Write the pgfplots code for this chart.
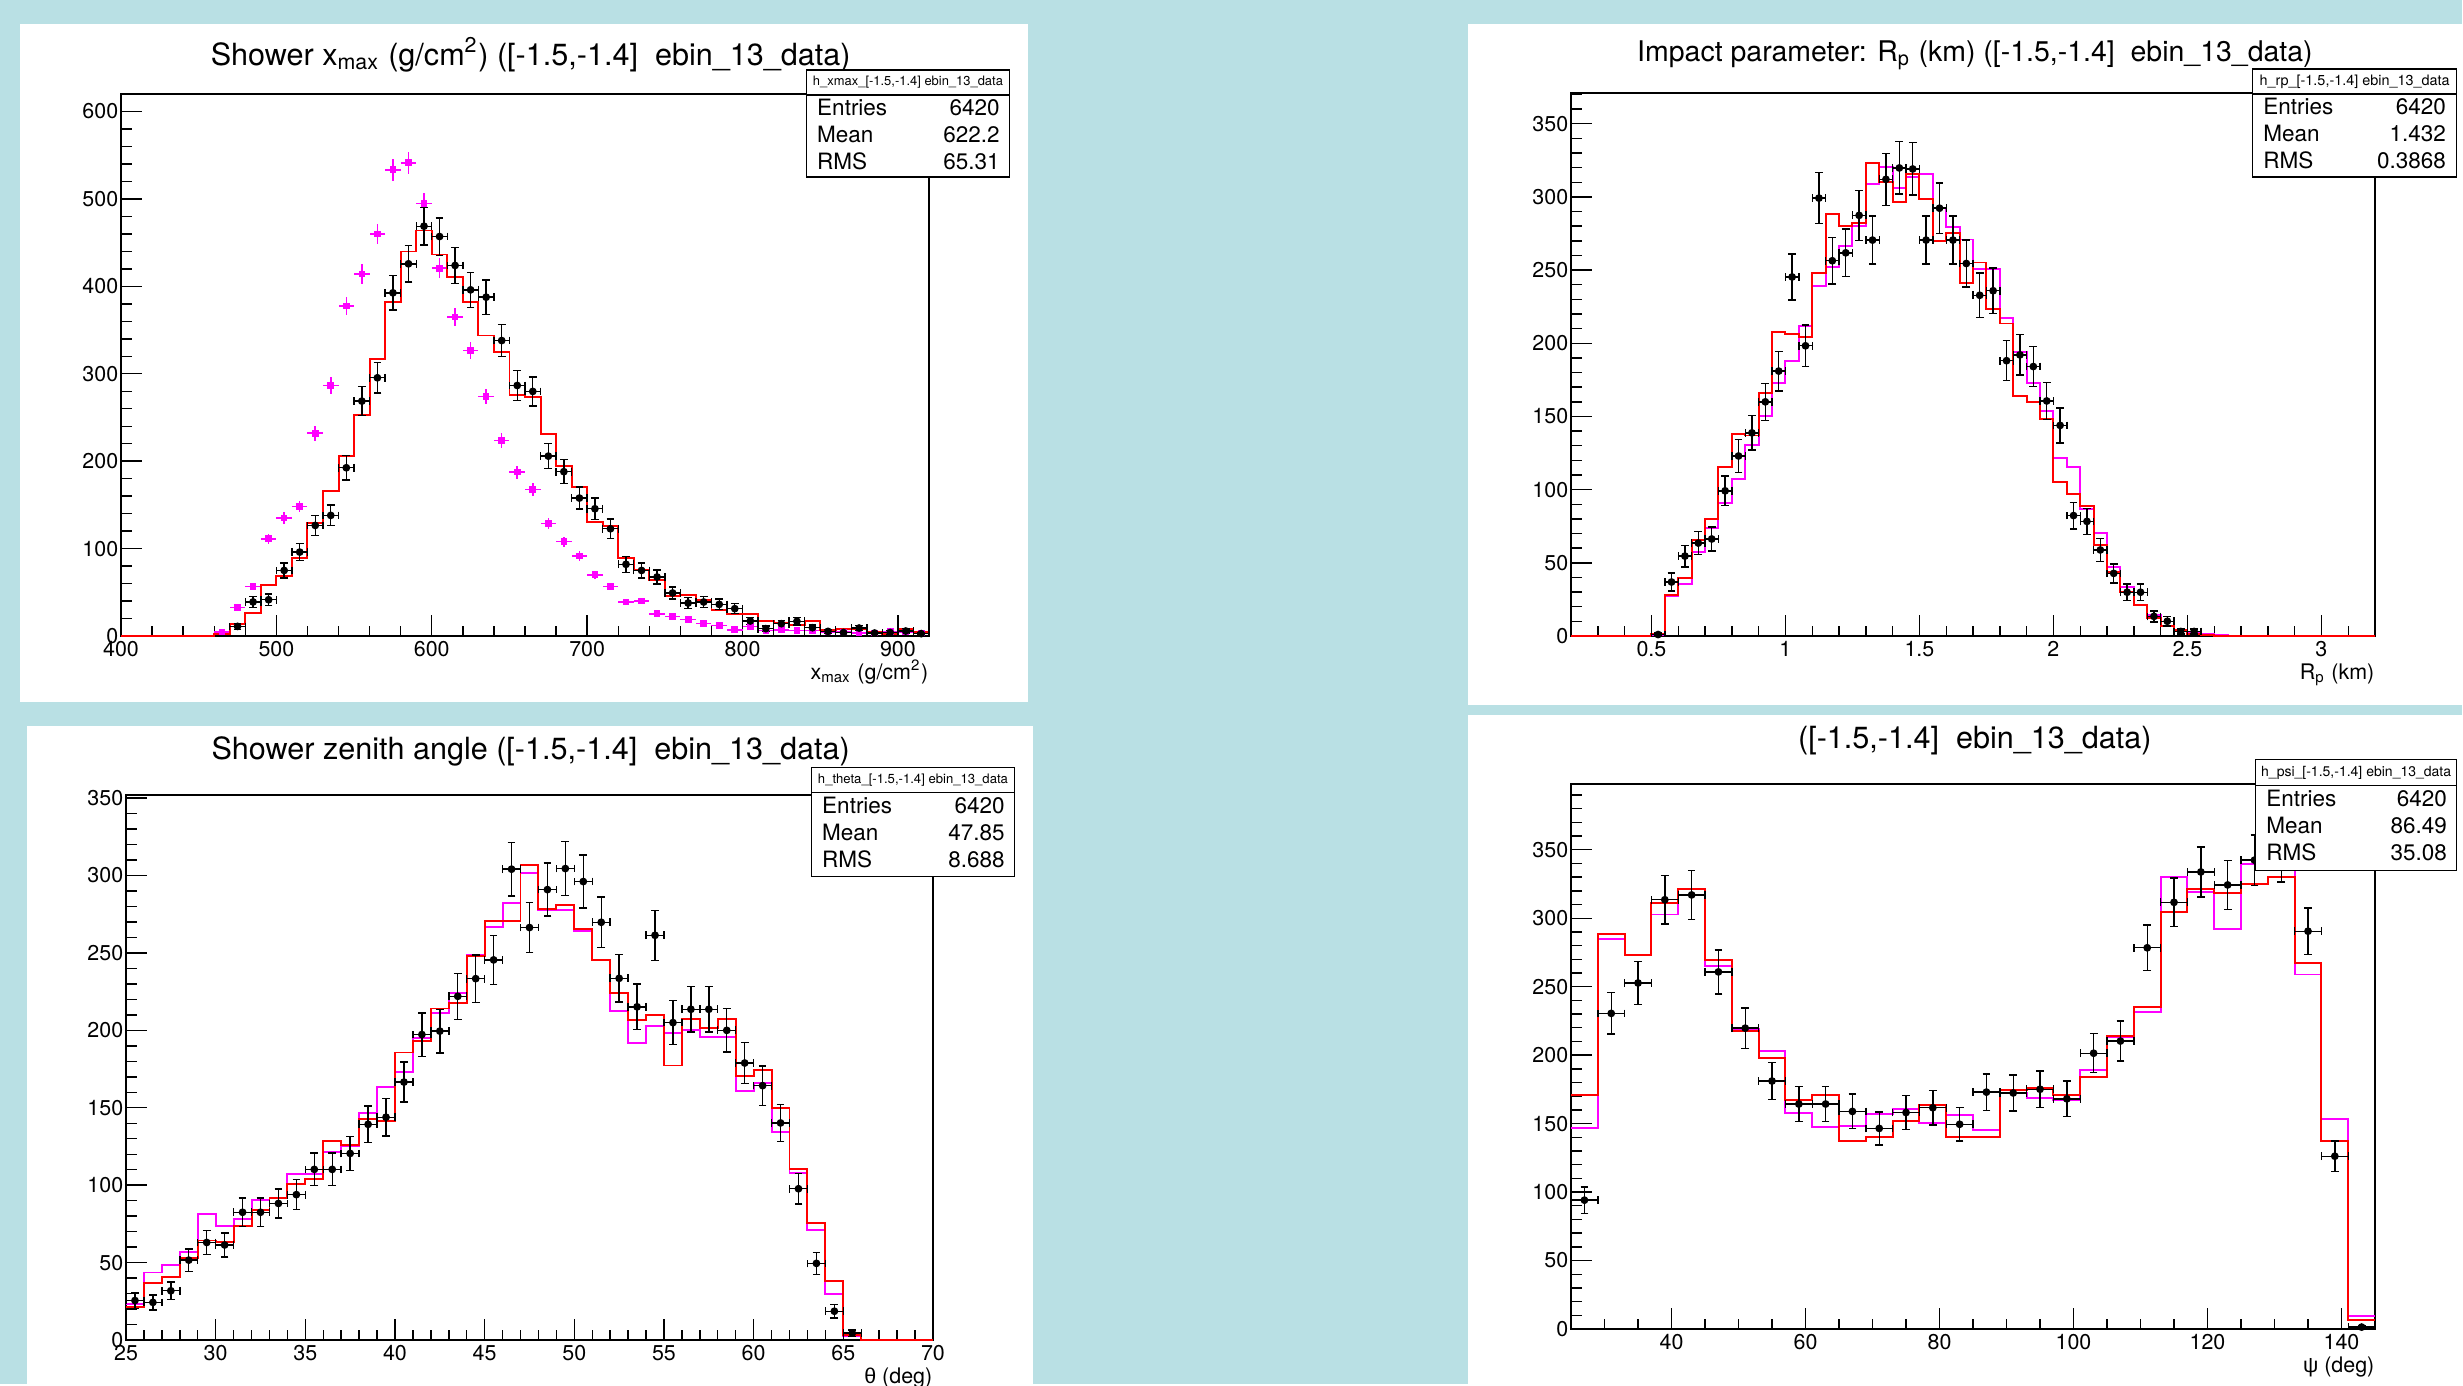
\documentclass[border=0pt]{standalone}
\usepackage{pgfplots}
\pgfplotsset{compat=1.18}
\usepackage{fontspec}
\setmainfont{TeX Gyre Heros}
\newfontfamily\greekfont{Liberation Sans}
\definecolor{bgblue}{RGB}{185,224,228}
\definecolor{rmag}{RGB}{255,0,255}
\definecolor{rred}{RGB}{255,0,0}
\newcommand{\tickfont}{\fontsize{6.1}{7}\selectfont}
\newcommand{\statfont}{\fontsize{6.4}{7}\selectfont}
\pgfplotsset{
  rootaxis/.style={
    scale only axis, anchor=south west,
    axis line style={line width=0.42pt, black},
    tick align=inside, tick pos=left,
    major tick length=0.21cm, minor tick length=0.105cm,
    every tick/.style={black, line width=0.4pt},
    tick label style={font=\tickfont},
    xticklabel style={inner sep=1.4pt},
    yticklabel style={inner sep=0pt, xshift=-0.6pt},
    /pgf/number format/assume math mode=true,
    xlabel style={at={(axis description cs:1,0)}, anchor=base east, yshift=-0.43cm, inner sep=0pt, font=\tickfont},
    clip=true,
  },
  histo/.style={const plot, line width=0.55pt, #1},
  datapts/.style={black, only marks, mark=*, mark size=0.9pt,
    error bars/.cd, x dir=both, x explicit, y dir=both, y explicit,
    error bar style={line width=0.4pt, black},
    error mark options={rotate=90, mark size=1.1pt, line width=0.4pt, black}},
  magpts/.style={rmag, only marks, mark=square*, mark size=0.75pt,
    error bars/.cd, x dir=both, x explicit, y dir=both, y explicit,
    error bar style={line width=0.45pt, rmag}, error mark=none},
}
\begin{document}
\begin{tikzpicture}
\path[use as bounding box] (0,0) rectangle (24.63cm,-13.85cm);
\begin{scope}[x=0.01cm, y=-0.01cm]
\fill[bgblue] (0,0) rectangle (2463,1385);
\fill[white] (20,24) rectangle (1029,702);
\fill[white] (1469,24) rectangle (2463,705);
\fill[white] (27,726) rectangle (1034,1385);
\fill[white] (1469,715) rectangle (2463,1385);
\end{scope}

% ---------------- Panel 1: xmax ----------------
\begin{axis}[rootaxis, at={(1.21cm,-6.36cm)}, width=8.08cm, height=5.42cm,
  xmin=400, xmax=920, ymin=0, ymax=620,
  xtick={400,500,...,900}, ytick={0,100,...,600},
  minor xtick={400,420,...,920}, minor ytick={0,20,...,620},
  xlabel={x\textsubscript{max} (g/cm\textsuperscript{2})}]
\addplot[magpts] table[x=x, y=y, x error=ex, y error=ey] {
x y ex ey
465 4.6 5 1.2
475 32.4 5 3.1
485 56.8 5 4.1
495 111.3 5 5.8
505 135 5 6.4
515 148.3 5 6.7
525 232 5 8.4
535 286.6 5 9.3
545 377.4 5 10.7
555 414.3 5 11.2
565 460 5 11.8
575 533.3 5 12.7
585 541.3 5 12.8
595 495 5 12.2
605 420.8 5 11.3
615 364.8 5 10.5
625 326.7 5 9.9
635 274 5 9.1
645 223.7 5 8.2
655 187.5 5 7.5
665 167.7 5 7.1
675 128.5 5 6.2
685 108 5 5.7
695 91.5 5 5.3
705 70 5 4.6
715 56.8 5 4.1
725 38.9 5 3.4
735 40 5 3.5
745 25.5 5 2.8
755 22.5 5 2.6
765 18.7 5 2.4
775 14.1 5 2.1
785 12.2 5 1.9
795 7.2 5 1.5
805 11 5 1.8
815 6.5 5 1.4
825 7.2 5 1.5
835 6.5 5 1.4
845 6.5 5 1.4
855 4.6 5 1.2
865 4.6 5 1.2
875 3.4 5 1.0
885 3.4 5 1.0
895 5.3 5 1.3
905 4.6 5 1.2
915 3.4 5 1.0
};
\addplot[histo=rred] table {
x y
400 0
460 2
470 13.3
480 26.7
490 58.7
500 68.2
510 89.2
520 129.2
530 165.4
540 205.5
550 253
560 317.1
570 382
580 439.9
590 463.9
600 436.4
610 410.5
620 382
630 343.8
640 324.8
650 276
660 273.3
670 231.4
680 194
690 170.4
700 130.4
710 125.4
720 89.6
730 75
740 63.7
750 45.4
760 47.3
770 41.5
780 29.4
790 25.5
800 25.5
810 16.8
820 14.9
830 12.2
840 16.8
850 6.5
860 7.6
870 7.6
880 4.6
890 2.7
900 8.4
910 4.6
920 4.6
};
\addplot[datapts] table[x=x, y=y, x error=ex, y error=ey] {
x y ex ey
475 11 5 3.3
485 39 5 6.2
495 41.5 5 6.4
505 75 5 8.7
515 96 5 9.8
525 126.5 5 11.2
535 138 5 11.7
545 192.5 5 13.9
555 268.7 5 16.4
565 295.4 5 17.2
575 392.6 5 19.8
585 425.8 5 20.6
595 468.8 5 21.7
605 457 5 21.4
615 423.9 5 20.6
625 396 5 19.9
635 387.6 5 19.7
645 338 5 18.4
655 286.6 5 16.9
665 279.8 5 16.7
675 205.8 5 14.3
685 188 5 13.7
695 157.8 5 12.6
705 145.6 5 12.1
715 122.7 5 11.1
725 82 5 9.1
735 75 5 8.7
745 67.5 5 8.2
755 49.2 5 7.0
765 37.7 5 6.1
775 38.9 5 6.2
785 36.2 5 6.0
795 31.3 5 5.6
805 17.2 5 4.1
815 8.4 5 2.9
825 14.1 5 3.8
835 16.8 5 4.1
845 9.5 5 3.1
855 5.3 5 2.3
865 4 5 2.0
875 9.1 5 3.0
885 3.4 5 1.8
895 4 5 2.0
905 5.7 5 2.4
915 2.7 5 1.6
};
\end{axis}

% ---------------- Panel 2: Rp ----------------
\begin{axis}[rootaxis, at={(15.71cm,-6.36cm)}, width=8.04cm, height=5.43cm,
  xmin=0.2, xmax=3.2, ymin=0, ymax=371,
  xtick={0.5,1,1.5,2,2.5,3}, ytick={0,50,...,350},
  minor xtick={0.2,0.3,...,3.2}, minor ytick={0,10,...,370},
  xlabel={R\textsubscript{p} (km)}]
\addplot[histo=rmag] table {
x y
0.2 0
0.5 0.7
0.55 27
0.6 35.3
0.65 57.1
0.7 73.6
0.75 91
0.8 107
0.85 130.5
0.9 150.5
0.95 172.9
1.0 187.7
1.05 211.7
1.1 239.4
1.15 252.1
1.2 266.2
1.25 280.3
1.3 308.8
1.35 320.3
1.4 306.4
1.45 313.5
1.5 315.6
1.55 292.3
1.6 279.2
1.65 270.9
1.7 250.9
1.75 250.9
1.8 217.5
1.85 194
1.9 172.9
1.95 154
2.0 121.6
2.05 115.2
2.1 87
2.15 70.1
2.2 47
2.25 33.4
2.3 21.2
2.35 14.1
2.4 7.1
2.45 3.5
2.5 1.9
2.55 1.2
2.6 0.7
2.65 0
3.2 0
};
\addplot[histo=rred] table {
x y
0.2 0
0.5 1.2
0.55 28.2
0.6 39.5
0.65 65.4
0.7 80
0.75 115.2
0.8 138.3
0.85 137
0.9 165.8
0.95 207.4
1.0 206.5
1.05 204.6
1.1 248.1
1.15 288.1
1.2 279.9
1.25 282.2
1.3 323.4
1.35 310
1.4 296.8
1.45 315.8
1.5 298.7
1.55 270
1.6 275.2
1.65 241
1.7 255.2
1.75 223.4
1.8 213.5
1.85 164.2
1.9 159.9
1.95 148.2
2.0 105.1
2.05 96.9
2.1 88.7
2.15 61.9
2.2 43.5
2.25 29.9
2.3 21.2
2.35 12.5
2.4 7.1
2.45 4.2
2.5 1.2
2.55 0.7
2.6 0
3.2 0
};
\addplot[datapts] table[x=x, y=y, x error=ex, y error=ey] {
x y ex ey
0.525 1 0.025 1.0
0.575 36.9 0.025 6.1
0.625 54.6 0.025 7.4
0.675 63.5 0.025 8.0
0.725 66.3 0.025 8.1
0.775 99.2 0.025 10.0
0.825 123 0.025 11.1
0.875 138.8 0.025 11.8
0.925 160 0.025 12.6
0.975 181 0.025 13.5
1.025 245.3 0.025 15.7
1.075 198.3 0.025 14.1
1.125 299.2 0.025 17.3
1.175 256.4 0.025 16.0
1.225 261.8 0.025 16.2
1.275 287.4 0.025 17.0
1.325 270.5 0.025 16.4
1.375 312 0.025 17.7
1.425 319.8 0.025 17.9
1.475 319.1 0.025 17.9
1.525 270.5 0.025 16.4
1.575 292.3 0.025 17.1
1.625 270.5 0.025 16.4
1.675 254.5 0.025 16.0
1.725 232.8 0.025 15.3
1.775 235.9 0.025 15.4
1.825 188.1 0.025 13.7
1.875 192.1 0.025 13.9
1.925 184.1 0.025 13.6
1.975 160.6 0.025 12.7
2.025 143.9 0.025 12.0
2.075 82.3 0.025 9.1
2.125 78.3 0.025 8.8
2.175 58.8 0.025 7.7
2.225 42.8 0.025 6.5
2.275 29.9 0.025 5.5
2.325 29.9 0.025 5.5
2.375 13.4 0.025 3.7
2.425 10.1 0.025 3.2
2.475 3.1 0.025 1.8
2.525 3.1 0.025 1.8
};
\end{axis}

% ---------------- Panel 3: theta ----------------
\begin{axis}[rootaxis, at={(1.26cm,-13.40cm)}, width=8.07cm, height=5.45cm,
  xmin=25, xmax=70, ymin=0, ymax=352,
  xtick={25,30,...,70}, ytick={0,50,...,350},
  minor xtick={25,26,...,70}, minor ytick={0,10,...,350},
  xlabel={{\greekfont θ} (deg)}]
\addplot[histo=rmag] table {
x y
25 23.4
26 43.6
27 48.4
28 56.8
29 81.4
30 73.9
31 78.4
32 90.5
33 91.6
34 107.5
35 107.5
36 121.6
37 125
38 146.6
39 163.6
40 173.4
41 194.8
42 211.4
43 224.3
44 248.9
45 266.6
46 282.5
47 301.6
48 277.7
49 277.7
50 264.3
51 245.5
52 212.5
53 191.6
54 202.7
55 198.2
56 200
57 195.9
58 195.9
59 160.9
60 165.9
61 134.1
62 108
63 71.1
64 29.5
65 2.3
66 0
70 0
};
\addplot[histo=rred] table {
x y
25 21.6
26 37
27 40.5
28 53
29 64.3
30 63.6
31 73.4
32 84.1
33 91.6
34 100.7
35 104.1
36 128.4
37 126.1
38 142.7
39 141.6
40 185.7
41 193.2
42 214.1
43 217.5
44 248.2
45 270.5
46 270.5
47 306.8
48 278.4
49 281.1
50 265.5
51 245.5
52 224.3
53 206.4
54 210.2
55 177.3
56 207.5
57 201.6
58 207.5
59 170.5
60 174.5
61 150
62 110.7
63 75.7
64 38.2
65 3.4
66 0
70 0
};
\addplot[datapts] table[x=x, y=y, x error=ex, y error=ey] {
x y ex ey
25.5 25.5 0.5 5.0
26.5 24.3 0.5 4.9
27.5 31.8 0.5 5.6
28.5 51.6 0.5 7.2
29.5 63 0.5 7.9
30.5 61.4 0.5 7.8
31.5 82.5 0.5 9.1
32.5 82.5 0.5 9.1
33.5 88.2 0.5 9.4
34.5 93.9 0.5 9.7
35.5 110.2 0.5 10.5
36.5 110.2 0.5 10.5
37.5 120.5 0.5 11.0
38.5 139.3 0.5 11.8
39.5 143.9 0.5 12.0
40.5 166.6 0.5 12.9
41.5 197.3 0.5 14.0
42.5 199.5 0.5 14.1
43.5 222 0.5 14.9
44.5 233.4 0.5 15.3
45.5 245.5 0.5 15.7
46.5 304.1 0.5 17.4
47.5 266.4 0.5 16.3
48.5 290.9 0.5 17.1
49.5 304.5 0.5 17.5
50.5 296.1 0.5 17.2
51.5 269.8 0.5 16.4
52.5 233.6 0.5 15.3
53.5 215.2 0.5 14.7
54.5 261.4 0.5 16.2
55.5 205 0.5 14.3
56.5 213.6 0.5 14.6
57.5 213.6 0.5 14.6
58.5 200 0.5 14.1
59.5 178.9 0.5 13.4
60.5 164.3 0.5 12.8
61.5 140.2 0.5 11.8
62.5 97.7 0.5 9.9
63.5 49.5 0.5 7.0
64.5 18.6 0.5 4.3
65.5 4.5 0.5 2.1
};
\end{axis}

% ---------------- Panel 4: psi ----------------
\begin{axis}[rootaxis, at={(15.71cm,-13.29cm)}, width=8.04cm, height=5.45cm,
  xmin=25, xmax=145, ymin=0, ymax=398,
  xtick={40,60,...,140}, ytick={0,50,...,350},
  minor xtick={25,30,...,145}, minor ytick={0,10,...,390},
  xlabel={{\greekfont ψ} (deg)}]
\addplot[histo=rmag] table {
x y
25 146.8
29 284.6
33 273
37 302.7
41 317
45 265.4
49 218.9
53 203.2
57 157.6
61 147.8
65 148.6
69 157.3
73 160.8
77 150.5
81 156.5
85 145.1
89 172.2
93 168.4
97 167
101 189.2
105 213.5
109 231.6
113 330.3
117 318.9
121 291.9
125 339.7
129 351.4
133 258.9
137 153.2
141 9.5
145 9.5
};
\addplot[histo=rred] table {
x y
25 171.1
29 288.6
33 273
37 311.4
41 321.6
45 269.7
49 217.6
53 197.8
57 167
61 171.1
65 137.3
69 140
73 152.2
77 163.5
81 140
85 140.5
89 174.3
93 175.7
97 171.1
101 183.8
105 214.1
109 235.1
113 304.6
117 321.6
121 318.4
125 324.9
129 330.3
133 267.6
137 137.3
141 6.8
145 6.8
};
\addplot[datapts] table[x=x, y=y, x error=ex, y error=ey] {
x y ex ey
27 94.1 2 9.7
31 230.5 2 15.2
35 252.7 2 15.9
39 313.5 2 17.7
43 317 2 17.8
47 260.8 2 16.1
51 219.7 2 14.8
55 181.1 2 13.5
59 164.3 2 12.8
63 164.3 2 12.8
67 158.9 2 12.6
71 146.5 2 12.1
75 158.1 2 12.6
79 161.6 2 12.7
83 149.5 2 12.2
87 173 2 13.2
91 172.4 2 13.1
95 175.1 2 13.2
99 168.1 2 13.0
103 201.4 2 14.2
107 210.3 2 14.5
111 278.4 2 16.7
115 311.6 2 17.7
119 333.8 2 18.3
123 324.3 2 18.0
127 342.4 2 18.5
131 345 2 18.6
135 290.5 2 17.0
139 126.2 2 11.2
143 1.4 2 1.2
};
\end{axis}

% ---------------- titles and stat boxes ----------------
\begin{scope}[x=0.01cm, y=-0.01cm]
\node[anchor=base, inner sep=0pt, font=\fontsize{8.7}{10}\selectfont] at (531,66) {Shower x\textsubscript{max} (g/cm\textsuperscript{2}) ([-1.5,-1.4]\ \ ebin\_13\_data)};
\node[anchor=base, inner sep=0pt, font=\fontsize{8.1}{10}\selectfont] at (1976,62) {Impact parameter: R\textsubscript{p} (km) ([-1.5,-1.4]\ \ ebin\_13\_data)};
\node[anchor=base, inner sep=0pt, font=\fontsize{8.7}{10}\selectfont] at (531,760) {Shower zenith angle ([-1.5,-1.4]\ \ ebin\_13\_data)};
\node[anchor=base, inner sep=0pt, font=\fontsize{8.7}{10}\selectfont] at (1976,749) {([-1.5,-1.4]\ \ ebin\_13\_data)};

% box 1
\draw[fill=white, line width=0.4pt] (807,70) rectangle (1010,177);
\draw[line width=0.4pt] (807,95) -- (1010,95);
\node[inner sep=0pt] at (908.5,82.5) {\resizebox{1.9cm}{!}{h\_xmax\_[-1.5,-1.4] ebin\_13\_data}};
\node[anchor=base west, inner sep=0pt, font=\statfont] at (817,116) {Entries};
\node[anchor=base west, inner sep=0pt, font=\statfont] at (817,143) {Mean};
\node[anchor=base west, inner sep=0pt, font=\statfont] at (817,170) {RMS};
\node[anchor=base east, inner sep=0pt, font=\statfont] at (1001,116) {6420};
\node[anchor=base east, inner sep=0pt, font=\statfont] at (1001,143) {622.2};
\node[anchor=base east, inner sep=0pt, font=\statfont] at (1001,170) {65.31};
% box 2
\draw[fill=white, line width=0.4pt] (2254,69) rectangle (2458,177);
\draw[line width=0.4pt] (2254,94) -- (2458,94);
\node[inner sep=0pt] at (2356,81.5) {\resizebox{1.9cm}{!}{h\_rp\_[-1.5,-1.4] ebin\_13\_data}};
\node[anchor=base west, inner sep=0pt, font=\statfont] at (2264,115) {Entries};
\node[anchor=base west, inner sep=0pt, font=\statfont] at (2264,142) {Mean};
\node[anchor=base west, inner sep=0pt, font=\statfont] at (2264,169) {RMS};
\node[anchor=base east, inner sep=0pt, font=\statfont] at (2448,115) {6420};
\node[anchor=base east, inner sep=0pt, font=\statfont] at (2448,142) {1.432};
\node[anchor=base east, inner sep=0pt, font=\statfont] at (2448,169) {0.3868};
% box 3
\draw[fill=white, line width=0.4pt] (812,768) rectangle (1015,877);
\draw[line width=0.4pt] (812,793) -- (1015,793);
\node[inner sep=0pt] at (913.5,780.5) {\resizebox{1.9cm}{!}{h\_theta\_[-1.5,-1.4] ebin\_13\_data}};
\node[anchor=base west, inner sep=0pt, font=\statfont] at (822,814) {Entries};
\node[anchor=base west, inner sep=0pt, font=\statfont] at (822,841) {Mean};
\node[anchor=base west, inner sep=0pt, font=\statfont] at (822,868) {RMS};
\node[anchor=base east, inner sep=0pt, font=\statfont] at (1006,814) {6420};
\node[anchor=base east, inner sep=0pt, font=\statfont] at (1006,841) {47.85};
\node[anchor=base east, inner sep=0pt, font=\statfont] at (1006,868) {8.688};
% box 4
\draw[fill=white, line width=0.4pt] (2257,760) rectangle (2458,871);
\draw[line width=0.4pt] (2257,786) -- (2458,786);
\node[inner sep=0pt] at (2357.5,773) {\resizebox{1.9cm}{!}{h\_psi\_[-1.5,-1.4] ebin\_13\_data}};
\node[anchor=base west, inner sep=0pt, font=\statfont] at (2267,807) {Entries};
\node[anchor=base west, inner sep=0pt, font=\statfont] at (2267,834) {Mean};
\node[anchor=base west, inner sep=0pt, font=\statfont] at (2267,861) {RMS};
\node[anchor=base east, inner sep=0pt, font=\statfont] at (2449,807) {6420};
\node[anchor=base east, inner sep=0pt, font=\statfont] at (2449,834) {86.49};
\node[anchor=base east, inner sep=0pt, font=\statfont] at (2449,861) {35.08};
\end{scope}
\end{tikzpicture}
\end{document}
